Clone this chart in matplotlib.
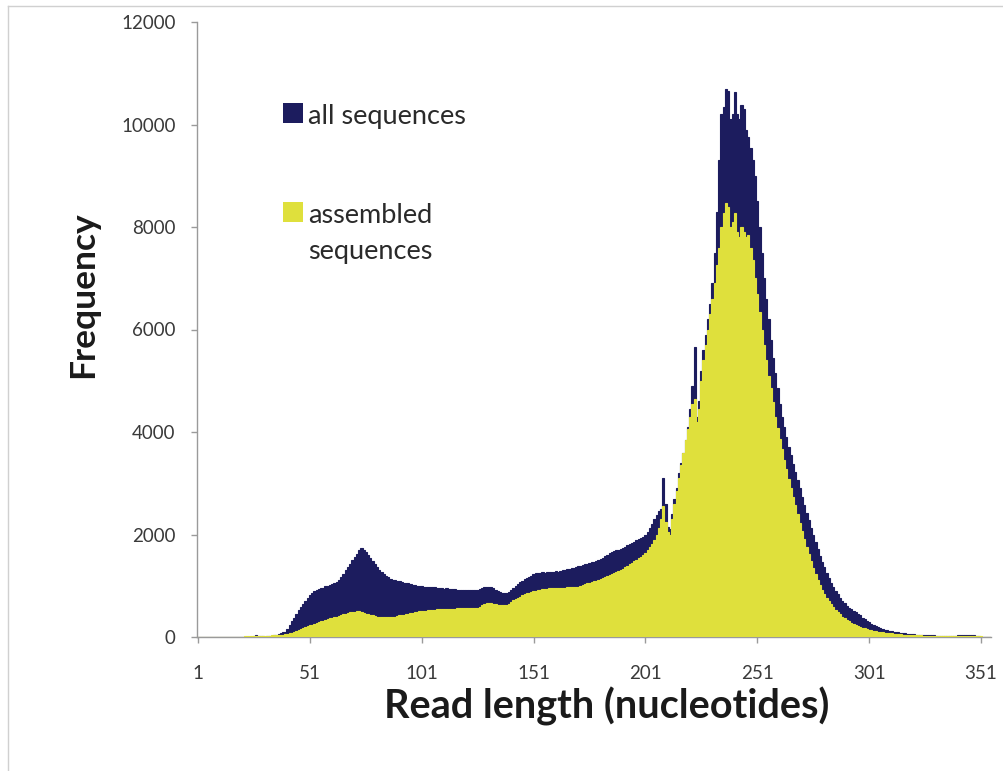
import numpy as np
import matplotlib
matplotlib.use("Agg")
import matplotlib.pyplot as plt
from matplotlib.patches import Rectangle
from matplotlib.lines import Line2D

# ---------------- data ----------------
read_length = list(range(1, 356))

all_sequences = [
    0, 0, 0, 0, 0, 0, 0, 0, 0, 0, 0, 0, 0, 0, 0, 0, 0, 0, 0, 0,
    0, 0, 0, 0, 0, 20, 30, 10, 25, 15,
    5, 10, 15, 20, 30, 40, 55, 70, 90, 100,
    160, 240, 310, 380, 440, 520, 580, 640, 700, 760,
    820, 860, 890, 920, 930, 950, 960, 990, 1000, 1020,
    1040, 1050, 1080, 1110, 1170, 1230, 1300, 1370, 1430, 1500,
    1560, 1620, 1690, 1740, 1700, 1660, 1600, 1540, 1480, 1420,
    1360, 1310, 1270, 1230, 1200, 1170, 1140, 1120, 1110, 1100,
    1090, 1070, 1060, 1050, 1050, 1040, 1020, 1010, 1000, 990,
    990, 985, 980, 975, 975, 970, 975, 960, 955, 950,
    945, 950, 940, 935, 930, 930, 925, 920, 925, 915,
    920, 920, 925, 915, 920, 920, 930, 950, 970, 975,
    980, 975, 950, 920, 890, 870, 860, 860, 865, 880,
    920, 960, 1000, 1040, 1070, 1100, 1130, 1160, 1180, 1200,
    1220, 1240, 1250, 1250, 1260, 1255, 1260, 1270, 1260, 1270,
    1280, 1270, 1290, 1300, 1310, 1320, 1330, 1340, 1350, 1370,
    1380, 1390, 1400, 1420, 1430, 1440, 1460, 1470, 1490, 1510,
    1530, 1550, 1580, 1600, 1630, 1650, 1670, 1690, 1700, 1720,
    1740, 1760, 1790, 1810, 1840, 1860, 1890, 1910, 1940, 1960,
    2000, 2050, 2120, 2200, 2300, 2380, 2450, 2500, 3100, 2600,
    2150, 2100, 2400, 2700, 2900, 3200, 3400, 3600, 3850, 4100,
    4450, 4900, 5650, 4300, 4600, 5200, 5600, 5900, 6200, 6500,
    6900, 7500, 8300, 9300, 10200, 10350, 10700, 10650, 10100, 10200,
    10630, 10200, 10100, 10380, 10300, 9900, 9750, 9550, 9300, 9000,
    8500, 8000, 7500, 7000, 6600, 6200, 5800, 5450, 5150, 4850,
    4550, 4300, 4100, 3900, 3700, 3550, 3380, 3220, 3060, 2900,
    2740, 2580, 2420, 2280, 2130, 1990, 1850, 1710, 1590, 1470,
    1360, 1250, 1150, 1050, 980, 900, 830, 770, 710, 660,
    610, 570, 540, 510, 480, 450, 420, 380, 350, 320,
    290, 260, 235, 210, 190, 170, 155, 140, 128, 118,
    108, 100, 95, 88, 80, 75, 70, 65, 60, 55,
    50, 48, 45, 42, 40, 38, 36, 34, 32, 30,
    28, 26, 25, 24, 22, 20, 20, 18, 18, 20,
    30, 40, 35, 40, 30, 40, 35, 30, 20, 10,
    5, 3, 2, 0, 0,
]

assembled_sequences = [
    0, 0, 0, 0, 0, 0, 0, 0, 0, 0, 0, 0, 0, 0, 0, 0, 0, 0, 0, 0,
    0, 10, 10, 15, 10, 15, 15, 20, 20, 20,
    20, 25, 25, 30, 30, 30, 35, 40, 45, 50,
    60, 70, 85, 100, 120, 140, 160, 180, 195, 210,
    225, 240, 255, 270, 290, 305, 320, 335, 350, 365,
    380, 390, 400, 410, 420, 440, 455, 470, 480, 490,
    495, 500, 510, 490, 470, 455, 440, 430, 420, 410,
    400, 395, 390, 385, 390, 395, 390, 395, 400, 410,
    420, 425, 430, 440, 450, 460, 470, 480, 490, 500,
    505, 510, 515, 520, 525, 530, 535, 540, 540, 545,
    545, 550, 550, 555, 550, 555, 560, 560, 565, 560,
    565, 560, 560, 565, 570, 575, 590, 620, 650, 660,
    665, 660, 650, 640, 630, 620, 615, 620, 630, 650,
    690, 720, 750, 770, 790, 810, 830, 850, 865, 880,
    890, 900, 910, 920, 930, 940, 945, 950, 955, 950,
    955, 960, 955, 960, 965, 970, 970, 975, 980, 975,
    985, 995, 1010, 1030, 1045, 1060, 1070, 1085, 1100, 1120,
    1140, 1160, 1180, 1200, 1210, 1230, 1250, 1270, 1290, 1310,
    1330, 1360, 1390, 1420, 1450, 1480, 1510, 1540, 1570, 1600,
    1640, 1690, 1750, 1820, 1900, 2000, 2120, 2300, 2550, 2250,
    2050, 2000, 2300, 2600, 2850, 3100, 3350, 3600, 3850, 4050,
    4300, 4550, 4650, 4200, 4450, 5000, 5400, 5700, 6000, 6300,
    6600, 6900, 7250, 7600, 8000, 8270, 8470, 8400, 8000, 8100,
    8270, 7900, 7800, 8000, 7900, 7800, 7850, 7600, 7350, 7000,
    6700, 6350, 6000, 5700, 5400, 5100, 4850, 4580, 4300, 4080,
    3870, 3660, 3460, 3270, 3090, 2910, 2740, 2570, 2400, 2230,
    2070, 1910, 1760, 1620, 1480, 1350, 1230, 1120, 1010, 920,
    840, 770, 700, 640, 580, 530, 480, 440, 400, 370,
    340, 310, 280, 260, 240, 220, 200, 185, 170, 155,
    140, 130, 120, 110, 100, 95, 90, 85, 80, 75,
    70, 65, 60, 55, 50, 48, 45, 42, 40, 38,
    36, 34, 32, 30, 28, 26, 25, 24, 22, 20,
    20, 20, 18, 18, 18, 16, 16, 15, 15, 15,
    15, 15, 14, 14, 14, 14, 13, 13, 12, 12,
    10, 8, 5, 3, 0,
]

x_ticks = [1, 51, 101, 151, 201, 251, 301, 351]
y_ticks = [0, 2000, 4000, 6000, 8000, 10000, 12000]
series_labels = ["all sequences", "assembled", "sequences"]
x_label = "Read length (nucleotides)"
y_label = "Frequency"

# ---------------- style ----------------
NAVY = "#1c1c5e"
YELLOW = "#dfe03c"
FONT = "Lato"
W, H = 1004, 771

plt.rcParams["font.family"] = [FONT, "DejaVu Sans"]

fig = plt.figure(figsize=(W / 100, H / 100), dpi=100)
fig.patch.set_facecolor("white")

def fx(px):
    return px / W

def fy(py):
    return 1 - py / H

ax_l, ax_r, ax_t, ax_b = 197, 991, 22, 637
ax = fig.add_axes([fx(ax_l), fy(ax_b), fx(ax_r) - fx(ax_l), fy(ax_t) - fy(ax_b)])

ax.bar(read_length, all_sequences, width=1.0, color=NAVY, edgecolor=NAVY,
       linewidth=0.8, zorder=2)
ax.bar(read_length, assembled_sequences, width=1.0, color=YELLOW,
       edgecolor=YELLOW, linewidth=0.8, zorder=3)

ax.set_xlim(0.5, 355.5)
ax.set_ylim(0, 12000)
ax.set_xticks(x_ticks)
ax.set_xticklabels([str(t) for t in x_ticks])
ax.set_yticks(y_ticks)
ax.set_yticklabels([str(t) for t in y_ticks])

for s in ["top", "right"]:
    ax.spines[s].set_visible(False)
for s in ["left", "bottom"]:
    ax.spines[s].set_color("#9a9a9a")
    ax.spines[s].set_linewidth(1.0)
ax.spines["bottom"].set_zorder(1)

ax.tick_params(axis="both", direction="out", length=4.5, width=1.0,
               color="#9a9a9a", labelsize=13.5, labelcolor="#3a3a3a")
ax.tick_params(axis="y", pad=11)
ax.tick_params(axis="x", pad=16)

# axis titles
fig.text(fx(607), fy(706), x_label, ha="center", va="center",
         fontsize=28.5, fontweight="bold", color="#1a1a1a", family=FONT)
fig.text(fx(83), fy(295), y_label, ha="center", va="center", rotation=90,
         fontsize=25.5, fontweight="bold", color="#1a1a1a", family=FONT)

# legend (manual)
sq = 20
fig.add_artist(Rectangle((fx(283), fy(123)), sq / W, sq / H,
                         transform=fig.transFigure, facecolor=NAVY,
                         edgecolor="none"))
fig.add_artist(Rectangle((fx(283), fy(222)), sq / W, sq / H,
                         transform=fig.transFigure, facecolor=YELLOW,
                         edgecolor="none"))
fig.text(fx(308), fy(124), series_labels[0], ha="left", va="baseline",
         fontsize=19.5, color="#2a2a2a", family=FONT)
fig.text(fx(308), fy(223), series_labels[1], ha="left", va="baseline",
         fontsize=19.5, color="#2a2a2a", family=FONT)
fig.text(fx(308), fy(259), series_labels[2], ha="left", va="baseline",
         fontsize=19.5, color="#2a2a2a", family=FONT)

# chart-area border (left and top edges visible)
fig.add_artist(Line2D([fx(8), fx(8)], [fy(6), fy(771)], transform=fig.transFigure,
                      color="#d0d0d0", linewidth=1.0))
fig.add_artist(Line2D([fx(8), fx(1004)], [fy(6), fy(6)], transform=fig.transFigure,
                      color="#d0d0d0", linewidth=1.0))

fig.savefig("out.png", dpi=100, facecolor="white")
